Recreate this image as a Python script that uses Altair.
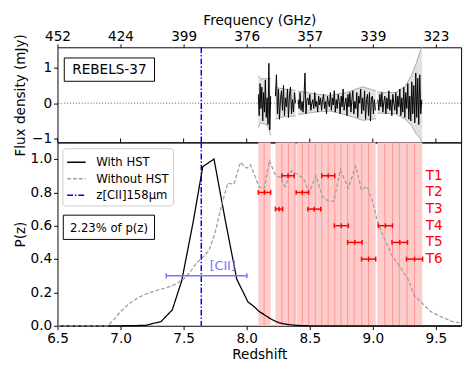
import altair as alt
import numpy as np
import pandas as pd

# ---------------- data ----------------
Z_TICKS = [6.5, 7.0, 7.5, 8.0, 8.5, 9.0, 9.5]
FREQ_LABELS = ["452", "424", "399", "376", "357", "339", "323"]
Z_CII = 7.64

# P(z) with HST
z_with = [6.5, 7.0, 7.1, 7.2, 7.32, 7.41, 7.485, 7.575, 7.652, 7.741, 7.831, 7.921,
          8.01, 8.06, 8.1, 8.14, 8.18, 8.22, 8.26, 8.32, 8.4, 8.5, 9.7]
p_with = [0.0, 0.0, 0.001, 0.003, 0.025, 0.095, 0.27, 0.62, 0.955, 1.0, 0.63, 0.28,
          0.143, 0.114, 0.085, 0.066, 0.046, 0.03, 0.017, 0.008, 0.002, 0.0, 0.0]

# P(z) without HST
z_without = [6.5, 6.9, 6.95, 7.0, 7.05, 7.1, 7.15, 7.2, 7.25, 7.3, 7.35, 7.4, 7.45, 7.5,
             7.55, 7.6, 7.65, 7.7, 7.75, 7.8, 7.85, 7.9, 7.95, 8.0, 8.03, 8.1, 8.14, 8.18,
             8.23, 8.27, 8.305, 8.356, 8.41, 8.45, 8.495, 8.55, 8.6, 8.64, 8.69, 8.743,
             8.805, 8.865, 8.91, 8.955, 9.0, 9.036, 9.087, 9.15, 9.215, 9.28, 9.33, 9.395,
             9.46, 9.536, 9.626, 9.7]
p_without = [0.0, 0.0, 0.04, 0.085, 0.12, 0.15, 0.172, 0.19, 0.203, 0.215, 0.225, 0.238,
             0.255, 0.28, 0.32, 0.375, 0.41, 0.45, 0.56, 0.72, 0.855, 0.85, 0.98, 0.945,
             0.965, 0.83, 0.825, 0.99, 0.9, 0.89, 0.835, 0.93, 0.905, 0.885, 0.8, 0.9,
             0.775, 0.752, 0.745, 0.935, 0.825, 0.958, 0.815, 0.835, 0.742, 0.626, 0.53,
             0.425, 0.355, 0.278, 0.18, 0.133, 0.085, 0.056, 0.027, 0.015]

# Tuning coverage bands
band_lo = [8.092, 8.228, 8.395, 9.036]
band_hi = [8.19, 8.387, 9.023, 9.392]
band_lines = [8.138, 8.279, 8.331, 8.382, 8.441, 8.492, 8.544, 8.595, 8.646, 8.698,
              8.748, 8.8, 8.852, 8.913, 8.967, 9.095, 9.156, 9.21, 9.272, 9.331]

# Tunings
tun_names = ["T1", "T2", "T3", "T4", "T5", "T6"]
tun_p = [0.9, 0.8, 0.7, 0.6, 0.5, 0.4]
tun_lo_a = [8.279, 8.092, 8.228, 8.695, 8.8, 8.91]
tun_hi_a = [8.377, 8.19, 8.285, 8.806, 8.915, 9.023]
tun_lo_b = [8.595, 8.392, 8.485, 9.044, 9.152, 9.267]
tun_hi_b = [8.698, 8.49, 8.587, 9.156, 9.275, 9.395]
tun_label_z = 9.42

# [CII] redshift range
cii_lo, cii_hi, cii_p = 7.362, 8.002, 0.3
cii_text_z, cii_text_p = 7.81, 0.355

# Spectrum (flux density, mJy) in four segments
spec_ranges = [(8.092, 8.19), (8.228, 8.387), (8.408, 9.02), (9.04, 9.388)]
spec_vals = [
    [0.25, -0.35, 0.55, -0.15, 0.45, -0.5, 0.3, -0.25, 0.65, -0.4, 0.15, -0.6, 1.12, -0.75, 0.2],
    [0.2, 0.8, -0.3, 0.4, -0.45, 0.1, 0.35, -0.2, 0.5, -0.35, 0.15, -0.1, 0.4, -0.4, 0.25,
     0.45, -0.3, 0.1, -0.25, 0.3, 0.0],
    [0.1, -0.15, 0.3, -0.2, 0.05, -0.25, 0.2, 0.85, -0.3, 0.1, 0.15, -0.05, 0.25, -0.2, 0.0,
     0.1, -0.15, 0.3, -0.1, 0.05, -0.25, 0.2, -0.05, 0.15, -0.2, 0.1, 0.25, -0.15, 0.05, -0.3,
     0.2, 0.0, -0.1, 0.3, -0.2, 0.15, -0.05, 0.35, -0.25, 0.1, -0.15, 0.25, 0.05, -0.3, 0.2,
     -0.1, 0.4, -0.2, 0.0, 0.15, -0.35, 0.25, -0.1, 0.3, -0.25, 0.1, 0.35, -0.3, 0.05, -0.15,
     0.3, -0.4, 0.2, 0.0, 0.4, -0.3, 0.15, -0.2, 0.35, -0.45, 0.1, 0.25, -0.35, 0.3, -0.5,
     0.15, 0.2, -0.3, 0.1, -0.2],
    [0.1, -0.2, 0.25, -0.1, 0.3, -0.25, 0.05, 0.2, -0.3, 0.15, -0.15, 0.35, -0.2, 0.1, -0.35,
     0.25, 0.0, -0.2, 0.3, -0.3, 0.2, -0.1, 0.4, -0.35, 0.15, -0.25, 0.45, -0.4, 0.3, -0.15,
     0.55, -0.45, 0.2, -0.5, 0.6, -0.3, 0.5, -0.55, 0.85, -0.4, 0.7, -0.6, 0.8, -0.3, 0.1],
]

# Noise envelope per segment
env_z = [[8.092, 8.11, 8.14, 8.17, 8.19],
         [8.228, 8.26, 8.3, 8.34, 8.387],
         [8.408, 8.48, 8.562, 8.664, 8.792, 8.87, 8.921, 9.01, 9.023],
         [9.036, 9.1, 9.177, 9.254, 9.305, 9.344, 9.377, 9.392]]
env_up = [[0.77, 0.69, 0.68, 0.69, 0.7],
          [0.45, 0.42, 0.4, 0.38, 0.36],
          [0.34, 0.3, 0.25, 0.22, 0.3, 0.4, 0.46, 0.36, 0.36],
          [0.32, 0.3, 0.3, 0.46, 0.77, 1.12, 1.48, 1.6]]
env_lo = [[-0.68, -0.55, -0.58, -0.65, -0.9],
          [-0.45, -0.4, -0.38, -0.37, -0.36],
          [-0.32, -0.28, -0.24, -0.22, -0.33, -0.42, -0.48, -0.44, -0.44],
          [-0.28, -0.28, -0.3, -0.44, -0.62, -0.86, -0.98, -1.15]]

SERIES = ["With HST", "Without HST", "z[CII]158μm"]
SERIES_COLORS = ["black", "#a0a0a0", "blue"]
SERIES_DASH = [[1, 0], [4, 2], [6, 2, 1.5, 2]]

# ---------------- tables ----------------
spec_rows = []
for s, ((a, b), vals) in enumerate(zip(spec_ranges, spec_vals)):
    for zz, v in zip(np.linspace(a, b, len(vals)), vals):
        spec_rows.append({"z": zz, "flux": v, "seg": s})
spec_df = pd.DataFrame(spec_rows)

env_rows = []
for s in range(len(env_z)):
    for zz, u, l in zip(env_z[s], env_up[s], env_lo[s]):
        env_rows.append({"z": zz, "up": u, "lo": l, "seg": s})
env_df = pd.DataFrame(env_rows)

curves_df = pd.concat([
    pd.DataFrame({"z": z_with, "p": p_with, "series": SERIES[0]}),
    pd.DataFrame({"z": z_without, "p": p_without, "series": SERIES[1]}),
])
cii_line_df = pd.DataFrame({"z": [Z_CII], "series": [SERIES[2]]})
ticks_df = pd.DataFrame({"z": Z_TICKS})
bands_df = pd.DataFrame({"z": band_lo, "hi": band_hi})
band_lines_df = pd.DataFrame({"z": band_lines})
bars_df = pd.DataFrame({
    "p": tun_p + tun_p,
    "z": tun_lo_a + tun_lo_b,
    "hi": tun_hi_a + tun_hi_b,
})
caps_rows = []
for p, lo, hi in zip(bars_df["p"], bars_df["z"], bars_df["hi"]):
    for zz in (lo, (lo + hi) / 2, hi):
        caps_rows.append({"z": zz, "p": p})
caps_df = pd.DataFrame(caps_rows)
tlabels_df = pd.DataFrame({"z": [tun_label_z] * len(tun_names), "p": tun_p, "t": tun_names})
cii_bar_df = pd.DataFrame({"z": [cii_lo], "hi": [cii_hi], "p": [cii_p]})
cii_caps_df = pd.DataFrame({"z": [cii_lo, cii_hi], "p": [cii_p, cii_p]})
cii_text_df = pd.DataFrame({"z": [cii_text_z], "p": [cii_text_p], "t": ["[CII]"]})

# ---------------- scales / axes ----------------
W = 416
H_TOP = 98
H_BOT = 189
FONT = "DejaVu Sans"

xscale = alt.Scale(domain=[6.5, 9.7], nice=False, zero=False)
ytop_scale = alt.Scale(domain=[-1.1, 1.57], nice=False, zero=False)
ybot_scale = alt.Scale(domain=[0, 1.1], nice=False, zero=False)

freq_expr = " : ".join(
    f"abs(datum.value - {z}) < 0.01 ? '{f}'" for z, f in zip(Z_TICKS, FREQ_LABELS)
) + " : ''"

top_xaxis = alt.Axis(orient="top", values=Z_TICKS, labelExpr=freq_expr,
                     title="Frequency (GHz)", titleFontSize=14, tickSize=3.5, labelPadding=0,
                     titlePadding=2.5, labelFlush=False, labelOverlap=False)
top_yaxis = alt.Axis(values=[-1, 0, 1], format="d", title="Flux density (mJy)",
                     tickSize=4, labelPadding=2, titleX=-38, titleBaseline="middle")
bot_xaxis = alt.Axis(orient="bottom", values=Z_TICKS, format=".1f", title="Redshift",
                     tickSize=4, labelPadding=2, titlePadding=3, labelFlush=False,
                     labelOverlap=False)
bot_yaxis = alt.Axis(values=[0, 0.2, 0.4, 0.6, 0.8, 1.0], format=".1f", title="P(z)",
                     tickSize=4, labelPadding=2, titleX=-38, titleBaseline="middle")


def tx(field="z"):
    return alt.X(f"{field}:Q", scale=xscale, axis=top_xaxis, title="Frequency (GHz)")


def ty(field):
    return alt.Y(f"{field}:Q", scale=ytop_scale, axis=top_yaxis, title="Flux density (mJy)")


def bx(field="z"):
    return alt.X(f"{field}:Q", scale=xscale, axis=bot_xaxis, title="Redshift")


def by(field="p"):
    return alt.Y(f"{field}:Q", scale=ybot_scale, axis=bot_yaxis, title="P(z)")


# ---------------- top panel ----------------
env_area = alt.Chart(env_df).mark_area(color="#e2e2e2", clip=True).encode(
    x=tx(), y=ty("up"), y2="lo:Q", detail="seg:N")
env_up_line = alt.Chart(env_df).mark_line(color="#a8a8a8", strokeWidth=1, clip=True).encode(
    x=tx(), y=ty("up"), detail="seg:N")
env_lo_line = alt.Chart(env_df).mark_line(color="#a8a8a8", strokeWidth=1, clip=True).encode(
    x=tx(), y=ty("lo"), detail="seg:N")
zero_rule = alt.Chart(pd.DataFrame({"flux": [0]})).mark_rule(
    color="#333333", strokeDash=[1, 2], strokeWidth=0.8).encode(y=ty("flux"))
spec_line = alt.Chart(spec_df).mark_line(color="black", strokeWidth=1, clip=True).encode(
    x=tx(), y=ty("flux"), detail="seg:N")
top_cii = alt.Chart(cii_line_df).mark_rule(
    color="blue", strokeWidth=1.5, strokeDash=SERIES_DASH[2]).encode(x=tx())
# shared-axis tick marks on the boundary between the panels
inner_ticks = alt.Chart(ticks_df).mark_rule(color="black", strokeWidth=1).encode(
    x=tx(), y=alt.value(H_TOP - 4), y2=alt.value(H_TOP))
name_df = pd.DataFrame({"t": ["REBELS-37"]})
name_box = alt.Chart(name_df).mark_rect(fill="white", stroke="black", strokeWidth=1).encode(
    x=alt.value(7), x2=alt.value(100), y=alt.value(11), y2=alt.value(35))
name_text = alt.Chart(name_df).mark_text(fontSize=14, font=FONT, color="black",
                                         baseline="middle", align="center").encode(
    x=alt.value(53.5), y=alt.value(23.5), text="t:N")

top = alt.layer(env_area, env_up_line, env_lo_line, zero_rule, spec_line, top_cii,
                inner_ticks, name_box, name_text).properties(width=W, height=H_TOP)

# ---------------- bottom panel ----------------
bands = alt.Chart(bands_df).mark_rect(color="#ffcccc").encode(x=bx(), x2="hi:Q")
blines = alt.Chart(band_lines_df).mark_rule(color="#ff9494", strokeWidth=1).encode(x=bx())
color_enc = alt.Color("series:N", scale=alt.Scale(domain=SERIES, range=SERIES_COLORS),
                      legend=alt.Legend(title=None))
dash_enc = alt.StrokeDash("series:N", scale=alt.Scale(domain=SERIES, range=SERIES_DASH),
                          legend=alt.Legend(title=None))
curves = alt.Chart(curves_df).mark_line(strokeWidth=1.3).encode(
    x=bx(), y=by(), color=color_enc, strokeDash=dash_enc)
bot_cii = alt.Chart(cii_line_df).mark_rule(strokeWidth=1.5).encode(
    x=bx(), color=color_enc, strokeDash=dash_enc)
bars = alt.Chart(bars_df).mark_rule(color="red", strokeWidth=1.5).encode(
    x=bx(), x2="hi:Q", y=by())
caps = alt.Chart(caps_df).mark_point(shape="M0,-1L0,1", size=25, filled=False,
                                     color="red", strokeWidth=1.5, opacity=1).encode(
    x=bx(), y=by())
tlabels = alt.Chart(tlabels_df).mark_text(color="red", fontSize=14, font=FONT,
                                          align="left", baseline="middle").encode(
    x=bx(), y=by(), text="t:N")
cii_color = "#7474ff"
cii_bar = alt.Chart(cii_bar_df).mark_rule(color=cii_color, strokeWidth=1.5).encode(
    x=bx(), x2="hi:Q", y=by())
cii_caps = alt.Chart(cii_caps_df).mark_point(shape="M0,-1L0,1", size=25, filled=False,
                                             color=cii_color, strokeWidth=1.5, opacity=1).encode(
    x=bx(), y=by())
cii_text = alt.Chart(cii_text_df).mark_text(color=cii_color, fontSize=13, font=FONT,
                                            align="center", baseline="middle").encode(
    x=bx(), y=by(), text="t:N")
frac_df = pd.DataFrame({"t": ["2.23% of p(z)"]})
frac_box = alt.Chart(frac_df).mark_rect(fill="white", stroke="black", strokeWidth=1).encode(
    x=alt.value(6), x2=alt.value(100), y=alt.value(75), y2=alt.value(100))
frac_text = alt.Chart(frac_df).mark_text(fontSize=12, font=FONT, color="black",
                                         baseline="middle", align="center").encode(
    x=alt.value(53), y=alt.value(88), text="t:N")

bottom = alt.layer(bands, blines, curves, bot_cii, bars, caps, tlabels, cii_bar, cii_caps,
                   cii_text, frac_box, frac_text).properties(width=W, height=H_BOT)

chart = alt.vconcat(top, bottom, spacing=0, bounds="flush").properties(
    padding={"left": 5, "top": 0, "right": 0, "bottom": 0}
).configure(font=FONT).configure_axis(
    labelFont=FONT, titleFont=FONT, labelFontSize=14, titleFontSize=14,
    titleFontWeight="normal", labelColor="black", titleColor="black",
    tickColor="black", domain=False, grid=False,
).configure_view(stroke="black", strokeWidth=1).configure_legend(
    orient="none", legendX=5, legendY=H_TOP + 6, fillColor="rgba(255,255,255,0.85)",
    strokeColor="#cccccc", cornerRadius=3, padding=4, symbolType="stroke",
    symbolSize=361, symbolStrokeWidth=1.5, labelFontSize=12, labelFont=FONT,
    labelColor="black", labelOffset=10, rowPadding=-1,
)

chart.save("out.html", embed_options={"renderer": "svg", "actions": False})
